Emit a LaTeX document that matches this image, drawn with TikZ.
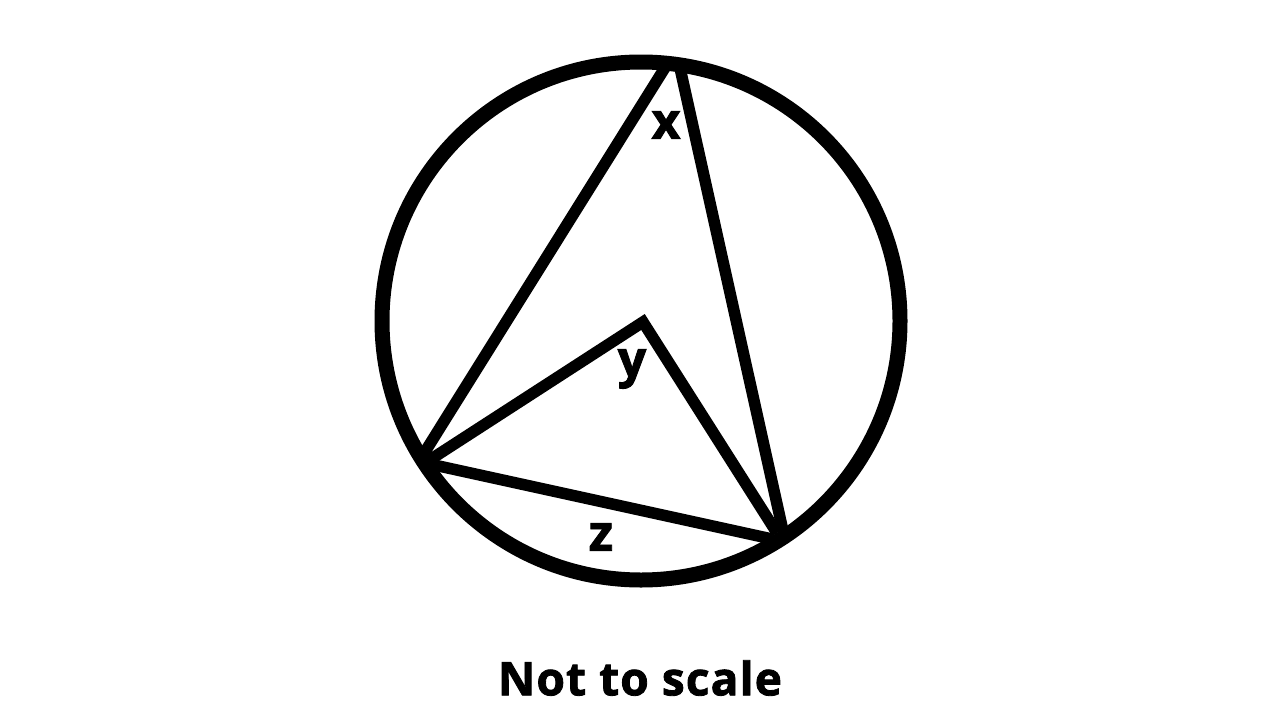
\documentclass[tikz,border=0pt]{standalone}
\usepackage{fontspec}
\setmainfont{Open Sans}[BoldFont={* Bold}, BoldFeatures={FakeBold=1.8, LetterSpace=2.5}]
\begin{document}
\begin{tikzpicture}[x=1pt,y=-1pt,
  edge/.style={line width=11.5pt, line join=miter, line cap=butt, draw=black},
  lbl/.style={font=\fontsize{50}{50}\selectfont\bfseries, inner sep=0pt},
  capt/.style={font=\fontsize{46}{46}\selectfont\bfseries, inner sep=0pt}]
\useasboundingbox (0,0) rectangle (1280,720);
\node[circle, draw=black, line width=15pt, minimum size=518pt, inner sep=0pt] (circ) at (641,321) {};
\coordinate (A1) at (666,66);
\coordinate (A2) at (680,68);
\coordinate (B1) at (423,455);
\coordinate (B) at (425,463);
\coordinate (C) at (643,322);
\coordinate (D1) at (783,531);
\coordinate (D2) at (777,533);
\coordinate (D3) at (772,539);
\draw[edge] (B1) -- (A1);
\draw[edge] (A2) -- (D1);
\draw[edge] (B) -- (C) -- (D2);
\draw[edge] (B) -- (D3);
\node[lbl] (lx) at (666,125) {x};
\node[lbl] (ly) at (632,369) {y};
\node[lbl] (lz) at (601,537) {z};
\node[capt] (cap) at (640,678) {Not to scale};
\end{tikzpicture}
\end{document}
